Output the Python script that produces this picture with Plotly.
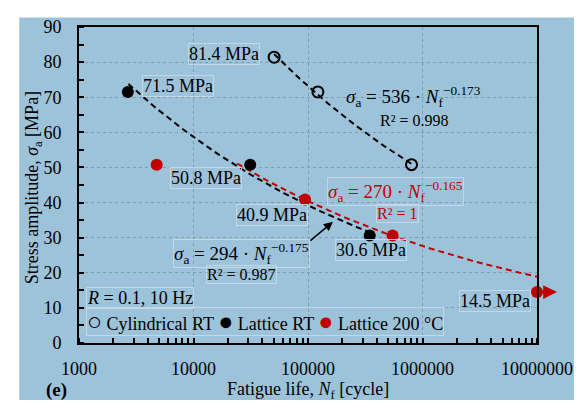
import numpy as np
import plotly.graph_objects as go

# ---- data ----
cyl_N = [50600, 122000, 802000]
cyl_S = [81.4, 71.5, 50.8]
lat_N = [2670, 31300, 346000]
lat_S = [71.5, 50.8, 30.6]
hot_N = [4770, 94200, 548000, 10000000]
hot_S = [50.8, 40.9, 30.6, 14.5]

fit_cyl = (536, -0.173, 0.998, 50600, 802000)
fit_lat = (294, -0.175, 0.987, 2700, 346000)
fit_hot = (270, -0.165, 1, 24000, 10000000)

x_ticks = [1000, 10000, 100000, 1000000, 10000000]
y_ticks = list(range(0, 100, 10))

RED = "#C00000"
BG = "#9DC3DA"
FONT = "Liberation Serif"
BOX = "rgba(200,218,232,0.9)"

fig = go.Figure()

def fit_line(f, color):
    a, b, r2, n0, n1 = f
    n = np.logspace(np.log10(n0), np.log10(n1), 60)
    fig.add_trace(go.Scatter(x=n, y=a * n ** b, mode="lines",
                             line=dict(color=color, width=2, dash="6px,4px"),
                             showlegend=False, hoverinfo="skip"))

fit_line(fit_cyl, "black")
fit_line(fit_lat, "black")
fit_line(fit_hot, RED)

fig.add_trace(go.Scatter(x=cyl_N, y=cyl_S, mode="markers", name="Cylindrical RT",
                         marker=dict(size=11, color="rgba(0,0,0,0)", line=dict(color="black", width=2)),
                         cliponaxis=False, showlegend=False))
fig.add_trace(go.Scatter(x=lat_N, y=lat_S, mode="markers", name="Lattice RT",
                         marker=dict(size=12, color="black"), cliponaxis=False, showlegend=False))
fig.add_trace(go.Scatter(x=hot_N, y=hot_S, mode="markers", name="Lattice 200 °C",
                         marker=dict(size=12, color=RED), cliponaxis=False, showlegend=False))

ann = []
def lab(text, x, y, color="black", size=18, border=True, xanchor="center"):
    ann.append(dict(text=text, x=x, y=y, xref="x", yref="y", showarrow=False,
                    font=dict(family=FONT, size=size, color=color), xanchor=xanchor, yanchor="middle",
                    bordercolor=BOX if border else "rgba(0,0,0,0)", borderwidth=1, borderpad=0))

# value labels (log10 x positions)
lab(f"{cyl_S[0]} MPa", 4.270, 82.3)
lab(f"{lat_S[0]} MPa", 3.861, 73.2)
lab(f"{lat_S[1]} MPa", 4.113, 46.9)
lab(f"{hot_S[1]} MPa", 4.687, 36.4)
lab(f"{lat_S[2]} MPa", 5.548, 26.5)
lab(f"{hot_S[3]} MPa", 6.635, 11.9)

def eq(f):
    return (f"<i>σ</i><sub>a</sub> = {f[0]} · <i>N</i><sub>f</sub>"
            f"<sup>−{abs(f[1]):.3f}</sup>")

lab(eq(fit_cyl), 5.922, 70.3, size=19, border=False)
lab(f"R² = {fit_cyl[2]}", 5.930, 63.5, size=16, border=False)
lab(eq(fit_hot), 5.765, 43.2, color=RED, size=19)
lab(f"R² = {fit_hot[2]}", 5.783, 37.0, color=RED, size=16)
lab(eq(fit_lat), 4.417, 25.5, size=19)
lab(f"R² = {fit_lat[2]}", 4.417, 19.6, size=16)

lab("<i>R</i> = 0.1, 10 Hz", 3.061, 12.7, xanchor="left")
lab("<span style='font-size:25px'>○</span> Cylindrical RT "
    "<span style='font-size:25px'>●</span> Lattice RT "
    f"<span style='font-size:25px;color:{RED}'>●</span> Lattice 200 °C",
    3.061, 6.1, xanchor="left")

# arrow to the RT fit line
ann.append(dict(x=5.217, y=34.5, xref="x", yref="y", ax=-24, ay=20, axref="pixel", ayref="pixel",
                showarrow=True, arrowhead=2, arrowsize=1.2, arrowwidth=1.5, arrowcolor="black", text=""))
# runout arrow (head just outside the plot, so paper x)
ann.append(dict(x=1.0435, y=hot_S[3], xref="paper", yref="y", ax=-20, ay=0,
                axref="pixel", ayref="pixel",
                showarrow=True, arrowhead=2, arrowsize=1.1, arrowwidth=2.5, arrowcolor=RED, text=""))

# axis titles and panel label
ann.append(dict(text="Fatigue life, <i>N</i><sub>f</sub> [cycle]", x=0.5, y=-0.15, xref="paper", yref="paper",
                showarrow=False, font=dict(family=FONT, size=18, color="black"),
                xanchor="center", yanchor="middle"))
ann.append(dict(text="Stress amplitude, <i>σ</i><sub>a</sub> [MPa]", x=-0.1, y=0.49, xref="paper", yref="paper",
                textangle=-90, showarrow=False, font=dict(family=FONT, size=18, color="black"),
                xanchor="center", yanchor="middle"))
ann.append(dict(text="<b>(e)</b>", x=-0.05, y=-0.149, xref="paper", yref="paper",
                showarrow=False, font=dict(family=FONT, size=19, color="black"),
                xanchor="center", yanchor="middle"))

# page body has an 8px margin, so the figure is shrunk by 8px and shifted
fig.update_layout(
    width=574, height=393,
    margin=dict(l=71, r=43, t=9, b=58),
    paper_bgcolor="white", plot_bgcolor=BG,
    font=dict(family=FONT, size=18, color="black"),
    annotations=ann,
    shapes=[dict(type="rect", xref="paper", yref="paper", x0=-0.1304, x1=1.0848, y0=-0.18, y1=1.03,
                 fillcolor=BG, line=dict(width=0), layer="below")],
    xaxis=dict(type="log", range=[3, 7], tickvals=x_ticks, ticktext=[str(v) for v in x_ticks],
               showline=True, linecolor="black", linewidth=2, mirror=True,
               showgrid=True, gridcolor="#7E9DB4", griddash="dot", gridwidth=1,
               ticks="", zeroline=False, ticklabelstandoff=8,
               minor=dict(ticks="inside", ticklen=5, tickcolor="black", tickwidth=1.5, dtick="D1", showgrid=False)),
    yaxis=dict(range=[0, 90], tickvals=y_ticks,
               showline=True, linecolor="black", linewidth=2, mirror=True,
               showgrid=True, gridcolor="#7E9DB4", griddash="dot", gridwidth=1,
               ticks="", zeroline=False, ticklabelstandoff=12,
               minor=dict(ticks="inside", ticklen=5, tickcolor="black", tickwidth=1.5, dtick=5, showgrid=False)),
)

fig.write_html("out.html")
